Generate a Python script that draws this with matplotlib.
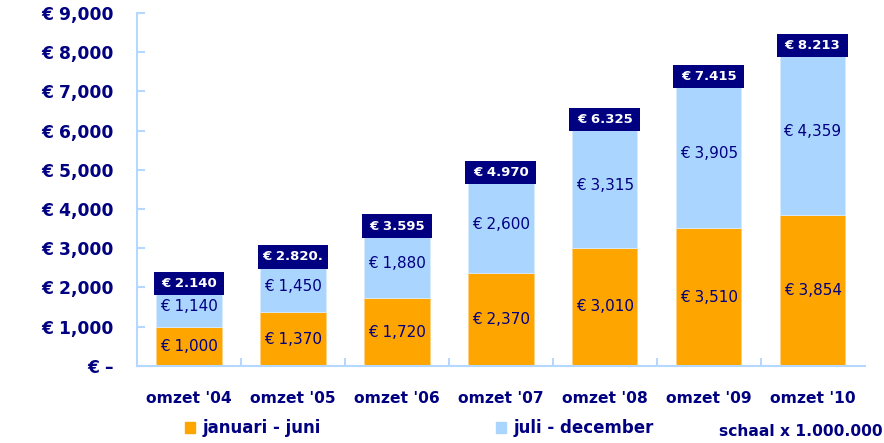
import matplotlib.pyplot as plt
from matplotlib.patches import Patch, Rectangle

categories = ["omzet '04", "omzet '05", "omzet '06", "omzet '07", "omzet '08", "omzet '09", "omzet '10"]
jan_jun = [1000, 1370, 1720, 2370, 3010, 3510, 3854]
jul_dec = [1140, 1450, 1880, 2600, 3315, 3905, 4359]
totaal_labels = ["€ 2.140", "€ 2.820.", "€ 3.595", "€ 4.970", "€ 6.325", "€ 7.415", "€ 8.213"]
y_ticks = [0, 1000, 2000, 3000, 4000, 5000, 6000, 7000, 8000, 9000]

navy = '#000080'
orange = '#ffa500'
light = '#aad5ff'
axis_col = '#b4d8ff'

fig = plt.figure(figsize=(8.84, 4.43), dpi=100)
ax = fig.add_axes([0.155, 0.174, 0.823, 0.797])

x = list(range(len(categories)))
w = 0.63
ax.bar(x, jan_jun, w, color=orange, edgecolor='#ffd27f', linewidth=0.6, zorder=2)
ax.bar(x, jul_dec, w, bottom=jan_jun, color=light, edgecolor='#d8ecff', linewidth=0.6, zorder=2)

box_w = 0.68
box_h = 600
for i in x:
    a = jan_jun[i]
    b = jul_dec[i]
    ax.text(i, a / 2, f"€ {a:,}", ha='center', va='center', color=navy, fontsize=11, zorder=3)
    ax.text(i, a + b / 2 - 60, f"€ {b:,}", ha='center', va='center', color=navy, fontsize=11, zorder=3)
    ax.add_patch(Rectangle((i - box_w / 2, a + b - box_h / 2 - 40), box_w, box_h,
                           fc=navy, ec='none', zorder=4))
    ax.text(i, a + b - 40, totaal_labels[i], ha='center', va='center', color='white',
            fontsize=9.5, fontweight='bold', zorder=5)

ax.set_xlim(-0.5, len(categories) - 0.5)
ax.set_ylim(0, 9000)
ax.set_yticks(y_ticks)
ax.set_yticklabels(["€ –"] + [f"€ {v:,}" for v in y_ticks[1:]])
ax.set_xticks(x)
ax.set_xticklabels(categories)
ax.set_xticks([i + 0.5 for i in x[:-1]], minor=True)

for s in ['top', 'right']:
    ax.spines[s].set_visible(False)
for s in ['left', 'bottom']:
    ax.spines[s].set_color(axis_col)
    ax.spines[s].set_linewidth(1.5)

ax.tick_params(axis='y', direction='in', length=6, width=1.5, color=axis_col, pad=17,
               labelsize=12.3, labelcolor=navy)
ax.tick_params(axis='x', which='major', length=0, pad=18, labelsize=11.2, labelcolor=navy)
ax.tick_params(axis='x', which='minor', direction='in', length=6, width=1.5, color=axis_col)
for lbl in ax.get_yticklabels() + ax.get_xticklabels():
    lbl.set_fontweight('bold')

handles = [Patch(color=orange, label='januari - juni'), Patch(color=light, label='juli - december')]
leg = fig.legend(handles=handles, loc='center left', bbox_to_anchor=(0.192, 0.033), ncol=2,
                 frameon=False, handlelength=0.6, handleheight=0.6, handletextpad=0.45,
                 columnspacing=10.5, prop={'weight': 'bold', 'size': 12})
for t in leg.get_texts():
    t.set_color(navy)

fig.text(0.998, 0.025, "schaal x 1.000.000", color=navy, fontsize=11.2, fontweight='bold',
         ha='right', va='center')

fig.savefig('out.png', dpi=100)
